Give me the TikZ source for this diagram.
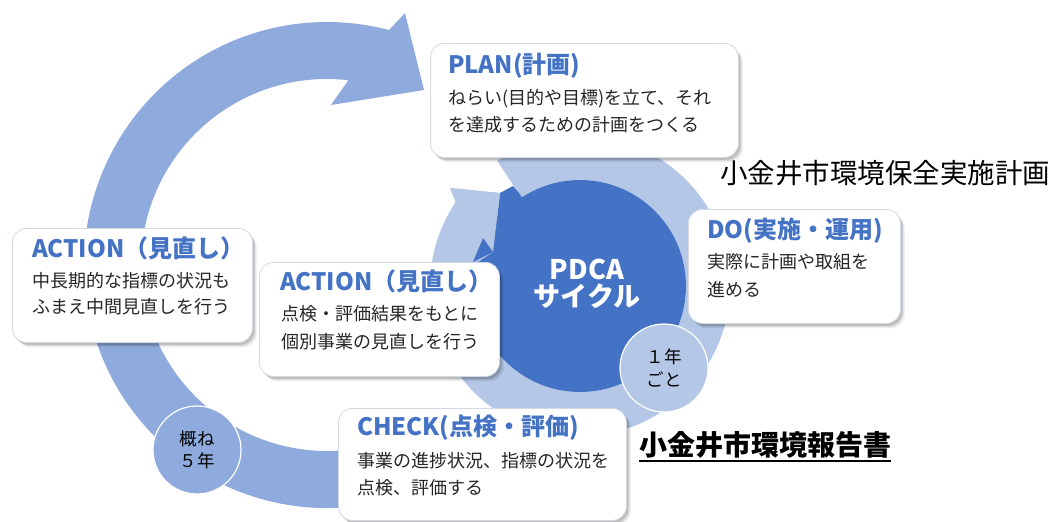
\documentclass[tikz,border=0pt]{standalone}
\usepackage{fontspec}
\setmainfont{Noto Sans CJK JP}
\usetikzlibrary{shadows,calc}
\definecolor{bigarc}{HTML}{8FAADC}
\definecolor{ringc}{HTML}{B4C7E7}
\definecolor{darkc}{HTML}{4472C4}
\definecolor{accent}{HTML}{4472C4}
\definecolor{bodyc}{HTML}{262626}
\definecolor{edgec}{HTML}{D3DAE6}
\begin{document}
\begin{tikzpicture}[x=1pt,y=-1pt,
 card/.style={rounded corners=14pt, fill=white, draw=edgec, line width=0.8pt, anchor=north west, inner sep=0pt,
   drop shadow={shadow xshift=4.5pt, shadow yshift=-5pt, opacity=0.06, fill=black},
   drop shadow={shadow xshift=3.2pt, shadow yshift=-3.8pt, opacity=0.09, fill=black},
   drop shadow={shadow xshift=2pt, shadow yshift=-2.4pt, opacity=0.13, fill=black}},
 ttl/.style={anchor=west, inner sep=0pt, text=accent, text height=0.88em, text depth=0.12em,
   font=\fontsize{24pt}{28pt}\selectfont\bfseries},
 bdy/.style={anchor=west, inner sep=0pt, text=bodyc, text height=0.88em, text depth=0.12em,
   font=\fontsize{18pt}{22pt}\selectfont},
 tag/.style={circle, draw=white, line width=1.2pt, minimum size=88pt, inner sep=0pt, align=center,
   text=black, font=\fontsize{17.5pt}{22.5pt}\selectfont}
]
\useasboundingbox (0,0) rectangle (1058,522);
\fill[white] (0,0) rectangle (1058,522);

% big 5-year arc
\fill[bigarc] (327,265) ++(75:243) arc[start angle=75,end angle=284.8,radius=243]
  -- (405,13) -- (424,90) -- (331,105) -- ($(327,265)+(276.6:186)$)
  arc[start angle=276.6,end angle=75,radius=186] -- cycle;

% small yearly ring
\fill[ringc] (580,286) ++(-123.5:150) arc[start angle=-123.5,end angle=214,radius=150]
  -- (450,188) -- (500,193) -- (493,252) -- ($(580,286)+(201:106)$)
  arc[start angle=201,end angle=-123.5,radius=106] -- cycle;
\node[circle, fill=darkc, minimum size=212pt, inner sep=0pt] (pdca) at (580,286) {};
\fill[darkc] (500,193) -- (513,186) -- (519,193) -- (pdca.center) -- (493,252) -- cycle;
\fill[ringc] (456,202) -- (450,188) -- (500,193) -- (493,252) -- (478,262) -- (445,240) -- cycle;
\fill[darkc] (473,262) -- (483,238) -- (493,252) -- cycle;
\node[align=center, text=white, inner sep=0pt, font=\fontsize{27pt}{27pt}\selectfont\bfseries]
  (pdcatext) at (587,284) {PDCA\\サイクル};

% cards
\node[card, minimum width=308pt, minimum height=114pt] (plan) at (430,43) {};
\node[ttl] (plant) at (448,70) {PLAN(計画)};
\node[bdy] (plan1) at (448,101) {ねらい(目的や目標)を立て、それ};
\node[bdy] (plan2) at (448,128) {を達成するための計画をつくる};

\node[card, minimum width=212pt, minimum height=114pt] (do) at (688,209) {};
\node[ttl] (dot) at (707,235) {DO(実施・運用)};
\node[bdy] (do1) at (707,265) {実際に計画や取組を};
\node[bdy] (do2) at (707,293) {進める};

\node[card, minimum width=240pt, minimum height=114pt] (actr) at (259,262) {};
\node[ttl] (actrt) at (280,287) {ACTION（見直し）};
\node[bdy] (actr1) at (281,317) {点検・評価結果をもとに};
\node[bdy] (actr2) at (281,345) {個別事業の見直しを行う};

\node[card, minimum width=240pt, minimum height=114pt] (actl) at (12,228) {};
\node[ttl] (actlt) at (32,254) {ACTION（見直し）};
\node[bdy] (actl1) at (32,284) {中長期的な指標の状況も};
\node[bdy] (actl2) at (32,310) {ふまえ中間見直しを行う};

\node[card, minimum width=288pt, minimum height=112pt] (check) at (338,408) {};
\node[ttl] (checkt) at (357,432) {CHECK(点検・評価)};
\node[bdy] (check1) at (357,464) {事業の進捗状況、指標の状況を};
\node[bdy] (check2) at (357,491) {点検、評価する};

% period tags
\node[tag, fill=ringc] (yearly) at (664,368) {１年\\ごと};
\node[tag, fill=bigarc] (fiveyr) at (197,450) {概ね\\５年};

% document labels
\node[anchor=west, inner sep=0pt, text height=0.88em, text depth=0.12em,
  font=\fontsize{27.5pt}{30pt}\selectfont] (plandoc) at (720,180) {小金井市環境保全実施計画};
\node[anchor=west, inner sep=0pt, text height=0.88em, text depth=0.12em,
  font=\fontsize{28pt}{30pt}\selectfont\bfseries] (report) at (639,452) {小金井市環境報告書};
\draw[line width=2.2pt] ([yshift=-3.5pt]report.south west) -- ([yshift=-3.5pt]report.south east);
\end{tikzpicture}
\end{document}
